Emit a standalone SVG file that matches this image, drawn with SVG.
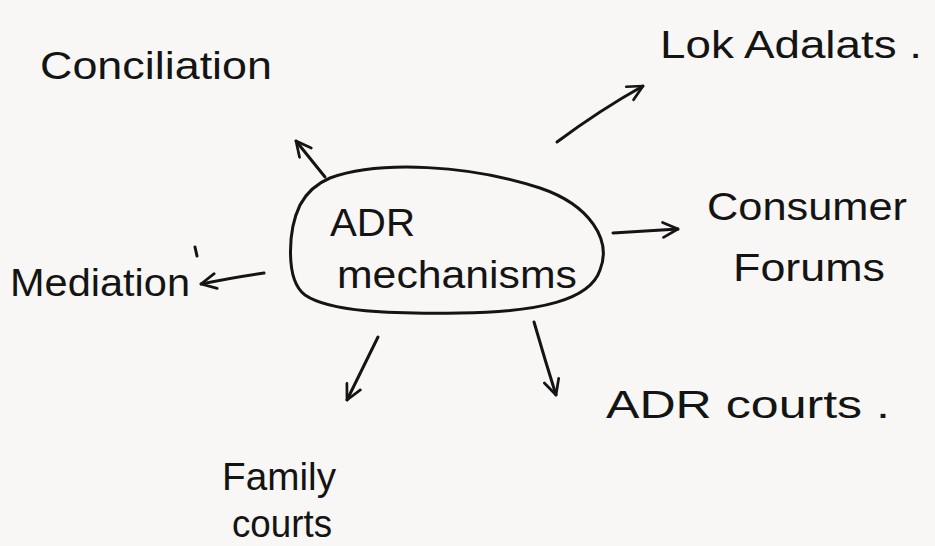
<svg xmlns="http://www.w3.org/2000/svg" width="935" height="546" viewBox="0 0 935 546">
<style>
.t{font-family:"Liberation Sans","DejaVu Sans",sans-serif;fill:#141414;font-size:38px}
.c{fill:none;stroke:#141414;stroke-width:3;stroke-linecap:round;stroke-linejoin:round}
</style>
<defs>
<marker id="ah" viewBox="0 0 12 12" refX="11" refY="6" markerWidth="18" markerHeight="18" markerUnits="userSpaceOnUse" orient="auto">
<path d="M1,1 L11,6 L1,11" fill="none" stroke="#141414" stroke-width="1.8" stroke-linecap="round" stroke-linejoin="round"/>
</marker>
</defs>
<rect width="935" height="546" fill="#f8f7f5"/>
<g id="center">
<path class="c" d="M330,178 C380,160 470,165 540,188 C590,205 612,240 600,270 C590,300 540,312 460,313 C390,314 330,312 305,295 C285,280 288,230 300,205 C308,190 318,183 330,178 Z"/>
<text class="t" x="330" y="236" textLength="85" lengthAdjust="spacingAndGlyphs">ADR</text>
<text class="t" x="337" y="288" textLength="240" lengthAdjust="spacingAndGlyphs">mechanisms</text>
</g>
<g id="conciliation"><text class="t" x="40" y="79" textLength="232" lengthAdjust="spacingAndGlyphs">Conciliation</text></g>
<g id="lok-adalats"><text class="t" x="660" y="58" font-size="40" textLength="262" lengthAdjust="spacingAndGlyphs">Lok Adalats .</text></g>
<g id="consumer-forums">
<text class="t" x="707" y="220" textLength="200" lengthAdjust="spacingAndGlyphs">Consumer</text>
<text class="t" x="733" y="281" textLength="152" lengthAdjust="spacingAndGlyphs">Forums</text>
</g>
<g id="mediation">
<text class="t" x="10" y="296" textLength="180" lengthAdjust="spacingAndGlyphs">Mediation</text>
<path class="c" d="M195,247 L197,256"/>
</g>
<g id="adr-courts"><text class="t" x="606" y="418" textLength="284" lengthAdjust="spacingAndGlyphs">ADR courts .</text></g>
<g id="family-courts">
<text class="t" x="222" y="490" font-size="40" textLength="114" lengthAdjust="spacingAndGlyphs">Family</text>
<text class="t" x="232" y="537" font-size="40" textLength="100" lengthAdjust="spacingAndGlyphs">courts</text>
</g>
<g id="connectors">
<path class="c" d="M325,177 L296,141" marker-end="url(#ah)"/>
<path class="c" d="M557,142 Q600,110 643,86" marker-end="url(#ah)"/>
<path class="c" d="M613,233 L678,229" marker-end="url(#ah)"/>
<path class="c" d="M264,273 Q235,277 201,284" marker-end="url(#ah)"/>
<path class="c" d="M378,337 L347,400" marker-end="url(#ah)"/>
<path class="c" d="M534,322 Q545,360 556,395" marker-end="url(#ah)"/>
</g>
</svg>
